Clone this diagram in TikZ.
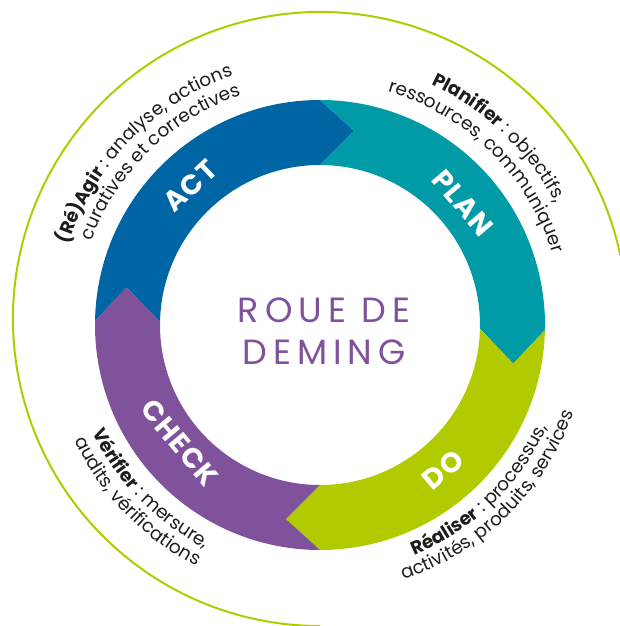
\documentclass[tikz,border=0pt]{standalone}
\usepackage{fontspec}
\setmainfont{Poppins}
\usetikzlibrary{decorations.text}

\definecolor{ActBlue}{RGB}{0,101,164}
\definecolor{PlanTeal}{RGB}{0,155,166}
\definecolor{DoGreen}{RGB}{177,203,0}
\definecolor{CheckPurple}{RGB}{127,82,155}
\definecolor{LabelInk}{RGB}{29,29,27}

\newcommand\RIn{160pt}
\newcommand\ROut{225pt}
\newcommand\RTip{197pt}
\newcommand\TipAngle{10}
\newcommand\LabelFont{\fontsize{18.5}{21}\selectfont\color{LabelInk}}

% one phase of the wheel: start angle, end angle, colour
\newcommand\PhaseArc[3]{%
    \fill[#3] (#1:\ROut) arc[start angle=#1, end angle=#2, radius=\ROut]
        -- (#2-\TipAngle:\RTip) -- (#2:\RIn)
        arc[start angle=#2, end angle=#1, radius=\RIn]
        -- (#1-\TipAngle:\RTip) -- cycle;
}
% caption bent along a circle: start angle, end angle, radius, text
\newcommand\CurvedLabel[4]{%
    \path[decorate, decoration={text along path, text align=center, text={#4}}]
        (#1:#3) arc[start angle=#1, end angle=#2, radius=#3];
}

\tikzset{
    phase label/.style={text=white,
        font=\bfseries\fontsize{28}{28}\selectfont\addfontfeature{LetterSpace=4}},
    wheel title/.style={text=CheckPurple, align=center,
        font=\fontsize{35}{42}\selectfont\addfontfeature{LetterSpace=17}},
}

\begin{document}
\begin{tikzpicture}[x=1pt,y=1pt]
    \useasboundingbox (-320,-301) rectangle (300,325);
    \coordinate (Hub) at (0,0);
    \draw[DoGreen, line width=2pt] (12:307pt) ++(0,6) arc[start angle=12, end angle=270, radius=307pt];
    % the four phases
    \PhaseArc{179}{90}{ActBlue}
    \PhaseArc{90}{-1.3}{PlanTeal}
    \PhaseArc{-1.3}{-90}{DoGreen}
    \PhaseArc{-90}{-181}{CheckPurple}
    \node[phase label, rotate=43] (ActLabel) at (133:190pt) {ACT};
    \node[phase label, rotate=-49.5] (PlanLabel) at (40.5:188pt) {PLAN};
    \node[phase label, rotate=40.3] (DoLabel) at (-49.7:190pt) {DO};
    \node[phase label, rotate=-50] (CheckLabel) at (220:183pt) {CHECK};
    \node[wheel title] (Title) at (4,-6) {ROUE DE\\DEMING};
    % captions round the wheel
    \CurvedLabel{180.7}{90.7}{264pt}{|\LabelFont\bfseries|(Ré)Agir|\LabelFont| : analyse, actions}
    \CurvedLabel{179.4}{89.4}{243pt}{|\LabelFont|curatives et correctives}
    \CurvedLabel{91.3}{1.3}{265pt}{|\LabelFont\bfseries|Planifier|\LabelFont| : objectifs,}
    \CurvedLabel{90.4}{0.4}{243pt}{|\LabelFont|ressources, communiquer}
    \CurvedLabel{-91}{-1}{249pt}{|\LabelFont\bfseries|Réaliser|\LabelFont| : processus,}
    \CurvedLabel{-90.5}{-0.5}{268pt}{|\LabelFont|activités, produits, services}
    \CurvedLabel{-181}{-91}{251pt}{|\LabelFont\bfseries|Vérifier|\LabelFont| : mersure,}
    \CurvedLabel{-181}{-91}{271pt}{|\LabelFont|audits, vérifications}
\end{tikzpicture}
\end{document}
